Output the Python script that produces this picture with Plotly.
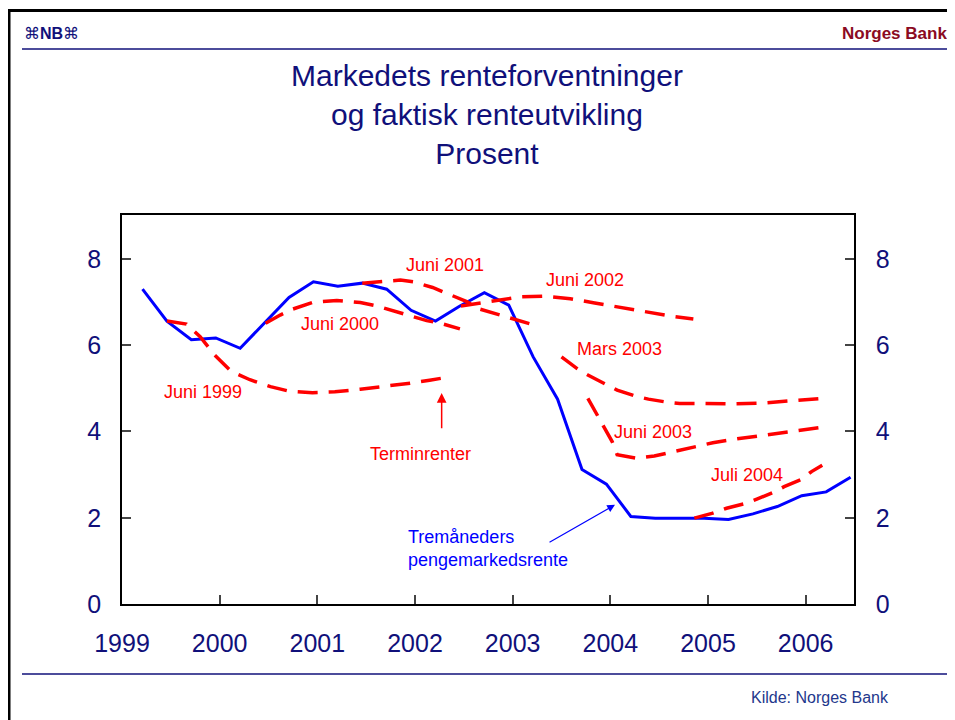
import plotly.graph_objects as go

# ---------------- data ----------------
years = [1999, 2000, 2001, 2002, 2003, 2004, 2005, 2006]
year_labels = ["1999", "2000", "2001", "2002", "2003", "2004", "2005", "2006"]
y_ticks = [0, 2, 4, 6, 8]

# Tremåneders pengemarkedsrente (quarterly)
rate_x = [1999.21, 1999.46, 1999.71, 1999.96, 2000.21, 2000.46, 2000.71, 2000.96,
          2001.21, 2001.46, 2001.71, 2001.96, 2002.21, 2002.46, 2002.71, 2002.96,
          2003.21, 2003.46, 2003.71, 2003.96, 2004.21, 2004.46, 2004.71, 2004.96,
          2005.21, 2005.46, 2005.71, 2005.96, 2006.21, 2006.46]
rate_y = [7.30, 6.56, 6.13, 6.17, 5.93, 6.51, 7.11, 7.47,
          7.37, 7.44, 7.30, 6.81, 6.56, 6.91, 7.22, 6.93,
          5.73, 4.75, 3.12, 2.78, 2.03, 1.99, 1.99, 1.99,
          1.96, 2.09, 2.26, 2.51, 2.60, 2.94]

# Terminrenter
jun1999_x = [1999.46, 1999.66, 1999.80, 1999.95, 2000.12, 2000.31, 2000.52, 2000.72,
             2000.95, 2001.18, 2001.44, 2001.69, 2001.95, 2002.15, 2002.34]
jun1999_y = [6.56, 6.49, 6.20, 5.77, 5.39, 5.20, 5.04, 4.93,
             4.90, 4.92, 4.98, 5.04, 5.12, 5.19, 5.26]

jun2000_x = [2000.47, 2000.62, 2000.75, 2000.96, 2001.20, 2001.44, 2001.61, 2001.74,
             2001.98, 2002.12, 2002.26, 2002.46]
jun2000_y = [6.51, 6.70, 6.84, 7.00, 7.04, 6.99, 6.91, 6.82,
             6.65, 6.57, 6.51, 6.38]

jun2001_x = [2001.46, 2001.64, 2001.85, 2001.98, 2002.18, 2002.33, 2002.53, 2002.66,
             2002.87, 2003.07, 2003.25]
jun2001_y = [7.44, 7.48, 7.51, 7.47, 7.34, 7.20, 7.01, 6.84,
             6.70, 6.55, 6.45]

jun2002_x = [2002.47, 2002.87, 2003.07, 2003.33, 2003.59, 2003.84, 2004.10, 2004.35,
             2004.61, 2004.85]
jun2002_y = [6.91, 7.05, 7.12, 7.14, 7.08, 6.98, 6.88, 6.78,
             6.68, 6.61]

mar2003_x = [2003.50, 2003.66, 2003.77, 2003.96, 2004.07, 2004.27, 2004.39, 2004.58,
             2004.71, 2004.92, 2005.23, 2005.56, 2005.87, 2006.18]
mar2003_y = [5.73, 5.46, 5.31, 5.10, 4.96, 4.81, 4.75, 4.68,
             4.65, 4.65, 4.64, 4.66, 4.71, 4.77]

jun2003_x = [2003.77, 2003.88, 2003.93, 2004.02, 2004.07, 2004.27, 2004.45, 2004.65,
             2004.85, 2005.05, 2005.30, 2005.55, 2005.80, 2006.04, 2006.18]
jun2003_y = [4.77, 4.34, 4.11, 3.76, 3.46, 3.38, 3.43, 3.53,
             3.63, 3.74, 3.83, 3.91, 3.98, 4.05, 4.10]

jul2004_x = [2004.86, 2005.04, 2005.19, 2005.40, 2005.50, 2005.68, 2005.78, 2005.96,
             2006.06, 2006.17]
jul2004_y = [1.99, 2.10, 2.22, 2.34, 2.43, 2.60, 2.72, 2.89,
             3.07, 3.22]

forward_curves = [
    ("Juni 1999", jun1999_x, jun1999_y),
    ("Juni 2000", jun2000_x, jun2000_y),
    ("Juni 2001", jun2001_x, jun2001_y),
    ("Juni 2002", jun2002_x, jun2002_y),
    ("Mars 2003", mar2003_x, mar2003_y),
    ("Juni 2003", jun2003_x, jun2003_y),
    ("Juli 2004", jul2004_x, jul2004_y),
]

# label positions (data coordinates)
curve_labels = [
    ("Juni 1999", 1999.834, 4.92),
    ("Juni 2000", 2001.232, 6.50),
    ("Juni 2001", 2002.307, 7.85),
    ("Juni 2002", 2003.740, 7.52),
    ("Mars 2003", 2004.092, 5.92),
    ("Juni 2003", 2004.434, 3.99),
    ("Juli 2004", 2005.397, 2.99),
]

# ---------------- layout geometry ----------------
OFF = 8                      # page body margin of the rendered html
W, H = 955 - OFF, 720 - OFF
L, T = 122 - OFF, 215 - OFF
R = W - (854 - OFF)
B = H - (604 - OFF)
PW, PH = W - L - R, H - T - B
X_RANGE = [1999, 2006.495]
Y_RANGE = [0, 9.02]

def px(x_screen):
    return (x_screen - OFF - L) / PW

def py(y_screen):
    return (H - B - (y_screen - OFF)) / PH

NAVY = "#10107A"
RED = "#FF0000"
BLUE = "#0000FF"
FONT = "Liberation Sans, Arial, sans-serif"

fig = go.Figure()

fig.add_trace(go.Scatter(x=rate_x, y=rate_y, mode="lines",
                         line=dict(color=BLUE, width=3),
                         name="Tremåneders pengemarkedsrente",
                         showlegend=False, hoverinfo="skip"))

for name, xs, ys in forward_curves:
    fig.add_trace(go.Scatter(x=xs, y=ys, mode="lines", yaxis="y2",
                             line=dict(color=RED, width=3.5, dash="20px,11px"),
                             name=name, showlegend=False, hoverinfo="skip"))

annotations = []
for text, x, y in curve_labels:
    annotations.append(dict(x=x, y=y, xref="x", yref="y", text=text, showarrow=False,
                            font=dict(family=FONT, size=18, color=RED)))

annotations.append(dict(x=2002.061, y=3.48, xref="x", yref="y", text="Terminrenter",
                        showarrow=False, font=dict(family=FONT, size=18, color=RED)))
# red arrow
annotations.append(dict(x=2002.273, y=4.89, ax=2002.273, ay=4.04, xref="x", yref="y",
                        axref="x", ayref="y", text="", showarrow=True, arrowhead=2,
                        arrowsize=1.3, arrowwidth=1.5, arrowcolor=RED))
annotations.append(dict(x=2001.908, y=1.28, xref="x", yref="y",
                        text="Tremåneders<br>pengemarkedsrente", align="left",
                        xanchor="left", showarrow=False,
                        font=dict(family=FONT, size=18, color=BLUE)))
# blue arrow
annotations.append(dict(x=2004.048, y=2.30, ax=2003.362, ay=1.41, xref="x", yref="y",
                        axref="x", ayref="y", text="", showarrow=True, arrowhead=2,
                        arrowsize=1.3, arrowwidth=1.2, arrowcolor=BLUE))

# title
annotations.append(dict(x=px(487), y=py(115), xref="paper", yref="paper",
                        text="Markedets renteforventninger<br>og faktisk renteutvikling<br>Prosent",
                        showarrow=False, align="center", xanchor="center", yanchor="middle",
                        font=dict(family=FONT, size=30, color=NAVY)))
# header / footer texts
annotations.append(dict(x=px(949), y=py(33), xref="paper", yref="paper",
                        text="<b>Norges Bank</b>", showarrow=False, xanchor="right",
                        yanchor="middle", font=dict(family=FONT, size=17, color="#8B0A22")))
annotations.append(dict(x=px(22), y=py(34), xref="paper", yref="paper",
                        text="⌘<b>NB</b>⌘", showarrow=False, xanchor="left",
                        yanchor="middle", font=dict(family=FONT, size=16, color=NAVY)))
annotations.append(dict(x=px(820), y=py(697), xref="paper", yref="paper",
                        text="Kilde: Norges Bank", showarrow=False, xanchor="center",
                        yanchor="middle", font=dict(family=FONT, size=16, color="#23378C")))

shapes = [
    dict(type="line", xref="paper", yref="paper", x0=px(6), y0=py(10.5), x1=px(960), y1=py(10.5),
         line=dict(color="black", width=3)),
    dict(type="line", xref="paper", yref="paper", x0=px(9.2), y0=py(9), x1=px(9.2), y1=py(725),
         line=dict(color="black", width=2.6)),
    dict(type="line", xref="paper", yref="paper", x0=px(22), y0=py(49), x1=px(960), y1=py(49),
         line=dict(color=NAVY, width=1.5)),
    dict(type="line", xref="paper", yref="paper", x0=px(22), y0=py(674), x1=px(960), y1=py(674),
         line=dict(color=NAVY, width=1.5)),
]

tickfont = dict(family=FONT, size=25, color=NAVY)

fig.update_layout(
    width=W, height=H,
    margin=dict(l=L, r=R, t=T, b=B, pad=0),
    paper_bgcolor="white", plot_bgcolor="white",
    showlegend=False,
    annotations=annotations,
    shapes=shapes,
    xaxis=dict(range=X_RANGE, tickmode="array", tickvals=years, ticktext=year_labels,
               ticks="inside", ticklen=9, tickwidth=1.5, tickcolor="#444",
               showline=True, linecolor="black", linewidth=1.5, mirror=True,
               showgrid=False, zeroline=False, tickfont=tickfont,
               ticklabelstandoff=16, fixedrange=True),
    yaxis=dict(range=Y_RANGE, tickmode="array", tickvals=y_ticks,
               ticks="inside", ticklen=9, tickwidth=1.5, tickcolor="#444",
               showline=True, linecolor="black", linewidth=1.5, mirror=True,
               showgrid=False, zeroline=False, tickfont=tickfont,
               ticklabelstandoff=14, fixedrange=True),
    yaxis2=dict(range=Y_RANGE, overlaying="y", side="right", anchor="x",
                tickmode="array", tickvals=y_ticks,
                ticks="inside", ticklen=9, tickwidth=1.5, tickcolor="#444",
                showline=True, linecolor="black", linewidth=1.5,
                showgrid=False, zeroline=False, tickfont=tickfont,
                ticklabelstandoff=15, fixedrange=True),
)

fig.write_html("out.html")
